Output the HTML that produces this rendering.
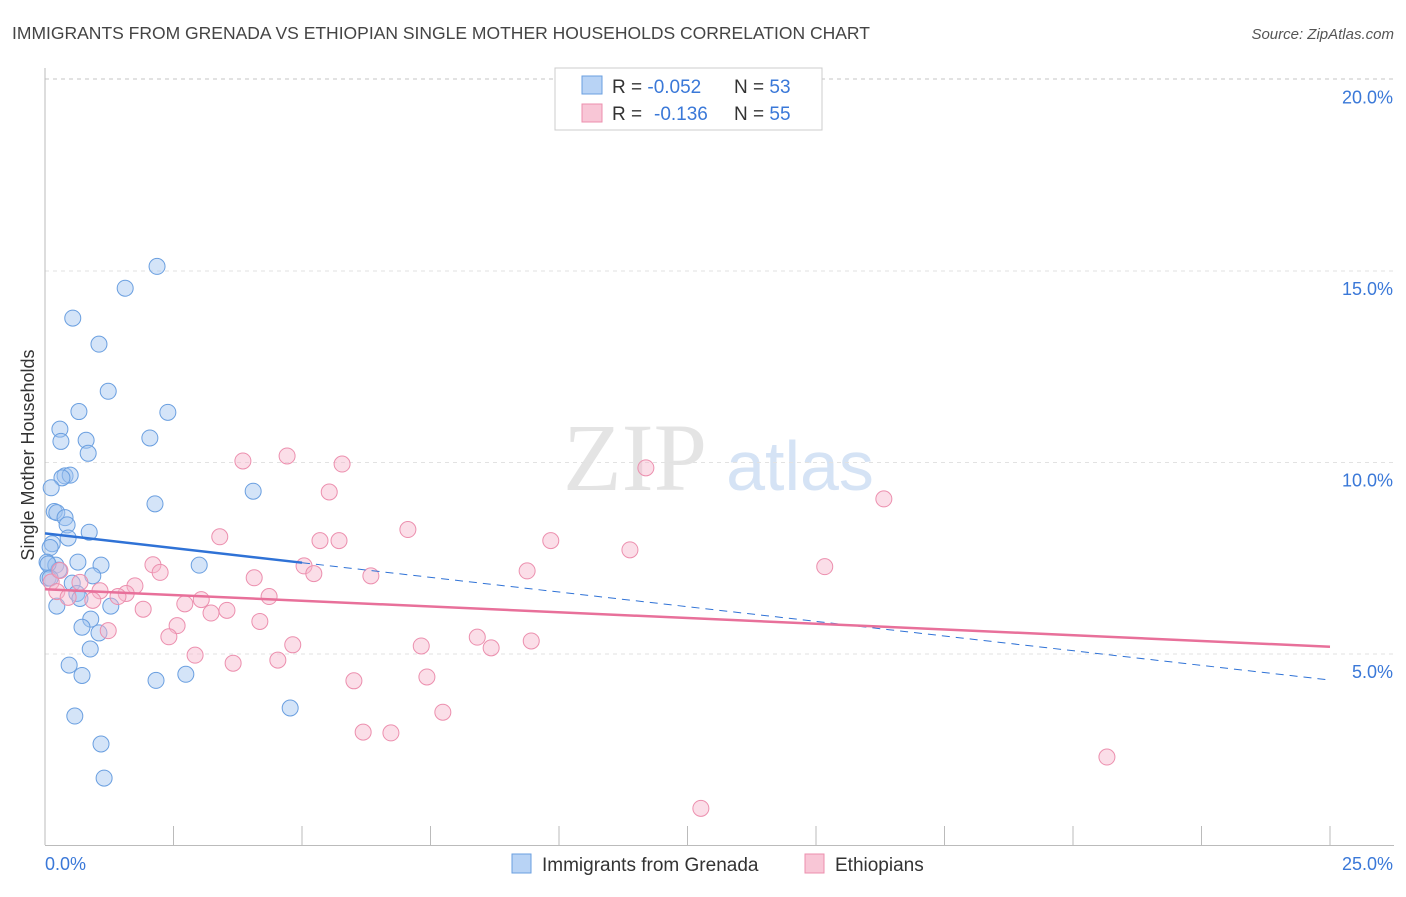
<!DOCTYPE html>
<html><head><meta charset="utf-8"><style>
body{margin:0;background:#fff;font-family:"Liberation Sans",sans-serif}
#wrap{position:relative;width:1406px;height:892px}
</style></head><body>
<div id="wrap">
<svg id="svg" width="1406" height="892" xmlns="http://www.w3.org/2000/svg">
<text x="12" y="39" font-size="17.5" fill="#444">IMMIGRANTS FROM GRENADA VS ETHIOPIAN SINGLE MOTHER HOUSEHOLDS CORRELATION CHART</text>
<text x="1394" y="39" font-size="15" fill="#555" font-style="italic" text-anchor="end">Source: ZipAtlas.com</text>
<text x="635" y="490" font-size="96" fill="#e4e4e4" font-family="Liberation Serif" text-anchor="middle">ZIP</text>
<text x="800" y="490" font-size="70" fill="#d5e3f5" text-anchor="middle">atlas</text>
<text transform="translate(34,455) rotate(-90)" font-size="18" fill="#333" text-anchor="middle">Single Mother Households</text>
<g id="grid"></g><g id="pts"></g><g id="trend"></g>
<g>
<rect x="555" y="68" width="267" height="62" fill="#fff" stroke="#ccc"/>
<rect x="582" y="76" width="20" height="18" fill="#b8d3f5" stroke="#6a9fe0"/>
<rect x="582" y="104" width="20" height="18" fill="#f8c6d6" stroke="#ec8fae"/>
<text x="612" y="93" font-size="19" fill="#333">R = <tspan fill="#3a78d8">-0.052</tspan><tspan x="734">N = </tspan><tspan fill="#3a78d8">53</tspan></text>
<text x="612" y="120" font-size="19" fill="#333">R = <tspan x="654" fill="#3a78d8">-0.136</tspan><tspan x="734">N = </tspan><tspan fill="#3a78d8">55</tspan></text>
</g>
<g>
<rect x="512" y="854" width="19" height="19" fill="#b8d3f5" stroke="#6a9fe0"/>
<text x="542" y="871" font-size="19" fill="#333">Immigrants from Grenada</text>
<rect x="805" y="854" width="19" height="19" fill="#f8c6d6" stroke="#ec8fae"/>
<text x="835" y="871" font-size="19" fill="#333">Ethiopians</text>
</g>
</svg></div>
<script>
const xTicks=[0,2.5,5,7.5,10,12.5,15,17.5,20,22.5,25];
const yTicks=[5,10,15,20];
const yTickLabels=["5.0%","10.0%","15.0%","20.0%"];
const grenadaX=[2.18,1.56,0.54,1.05,1.23,0.66,2.39,0.29,0.31,0.8,0.84,2.04,0.39,0.49,0.33,0.12,4.05,2.14,0.18,0.23,0.39,0.43,0.86,0.45,0.14,0.1,0.04,0.21,0.64,1.09,3.0,0.27,0.93,0.06,0.53,0.62,0.68,1.28,0.23,0.89,0.72,1.05,0.88,0.47,0.72,2.16,2.74,0.58,4.77,1.09,1.15,0.06,0.1];
const grenadaY=[15.12,14.55,13.77,13.09,11.86,11.33,11.31,10.87,10.55,10.58,10.24,10.64,9.65,9.67,9.6,9.34,9.25,8.92,8.72,8.69,8.56,8.37,8.18,8.03,7.88,7.78,7.4,7.32,7.4,7.32,7.32,7.19,7.04,6.98,6.85,6.58,6.45,6.25,6.25,5.91,5.7,5.55,5.13,4.71,4.44,4.31,4.47,3.38,3.59,2.65,1.76,7.35,6.98];
const ethX=[4.71,3.85,5.78,11.69,5.53,16.32,7.06,3.4,5.35,5.72,9.84,11.38,2.1,2.24,5.04,5.23,9.38,15.17,6.34,4.07,0.12,1.75,0.23,1.07,1.58,1.42,0.45,0.93,2.72,3.04,4.36,1.91,3.23,3.54,4.18,2.57,1.23,2.41,4.82,7.32,8.41,8.68,9.46,2.92,3.66,4.53,7.43,6.01,7.74,6.19,6.73,20.66,12.76,0.29,0.68];
const ethY=[10.17,10.04,9.96,9.86,9.23,9.05,8.25,8.06,7.96,7.96,7.96,7.72,7.33,7.13,7.3,7.1,7.17,7.28,7.04,6.99,6.88,6.78,6.63,6.65,6.58,6.5,6.48,6.4,6.31,6.42,6.5,6.17,6.07,6.14,5.85,5.74,5.61,5.45,5.24,5.21,5.44,5.16,5.34,4.97,4.76,4.84,4.4,4.3,3.48,2.96,2.94,2.31,0.97,7.18,6.87];
const trendG=[8.15,4.32], trendE=[6.69,5.19];
const NS="http://www.w3.org/2000/svg";
const X=v=>45+v*51.4, Y=v=>845.5-v*38.3;
function mk(t,a,p){const e=document.createElementNS(NS,t);for(const k in a)e.setAttribute(k,a[k]);p.appendChild(e);return e;}
const grid=document.getElementById('grid');
yTicks.forEach((t,i)=>{
 const l=mk('line',{x1:45,x2:1394,y1:Y(t),y2:Y(t),stroke:'#e2e2e2','stroke-dasharray':'4,4'},grid);
 
 
 const tx=mk('text',{x:1393,y:Y(t)+24,'font-size':18,fill:'#3a78d8','text-anchor':'end'},grid);tx.textContent=yTickLabels[i];
 
 
});
mk('line',{x1:45,x2:1394,y1:Y(20)-1,y2:Y(20)-1,stroke:'#e2e2e2','stroke-dasharray':'4,4'},grid);
const ax=mk('line',{x1:45,x2:1394,y1:845.5,y2:845.5,stroke:'#bbb'},grid);


mk('line',{x1:45,x2:45,y1:68,y2:845,stroke:'#bbb'},grid);
xTicks.forEach(t=>{const l=mk('line',{x1:X(t),x2:X(t),y1:826,y2:845,stroke:'#bbb'},grid);
 
 });
let t0=mk('text',{x:45,y:870,'font-size':18,fill:'#3a78d8'},grid);t0.textContent=xTicks[0].toFixed(1)+'%';


let t1=mk('text',{x:1393,y:870,'font-size':18,fill:'#3a78d8','text-anchor':'end'},grid);t1.textContent=xTicks[xTicks.length-1].toFixed(1)+'%';


const pts=document.getElementById('pts');
grenadaX.forEach((v,i)=>{const c=mk('circle',{cx:X(v),cy:Y(grenadaY[i]),r:8,fill:'rgba(160,196,240,0.45)',stroke:'#6a9fe0','stroke-width':1},pts);
 
 });
ethX.forEach((v,i)=>{const c=mk('circle',{cx:X(v),cy:Y(ethY[i]),r:8,fill:'rgba(246,182,204,0.45)',stroke:'#ec8fae','stroke-width':1},pts);
 
 });
const tr=document.getElementById('trend');
const gy=v=>trendG[0]+(trendG[1]-trendG[0])*v/25;
let a=mk('line',{x1:X(0),y1:Y(gy(0)),x2:X(5),y2:Y(gy(5)),stroke:'#2f72d6','stroke-width':2.5},tr);


let b=mk('line',{x1:X(5),y1:Y(gy(5)),x2:X(25),y2:Y(gy(25)),stroke:'#2f72d6','stroke-width':1,'stroke-dasharray':'8,6'},tr);


let c=mk('line',{x1:X(0),y1:Y(trendE[0]),x2:X(25),y2:Y(trendE[1]),stroke:'#e8709a','stroke-width':2.5},tr);


</script></body></html>
